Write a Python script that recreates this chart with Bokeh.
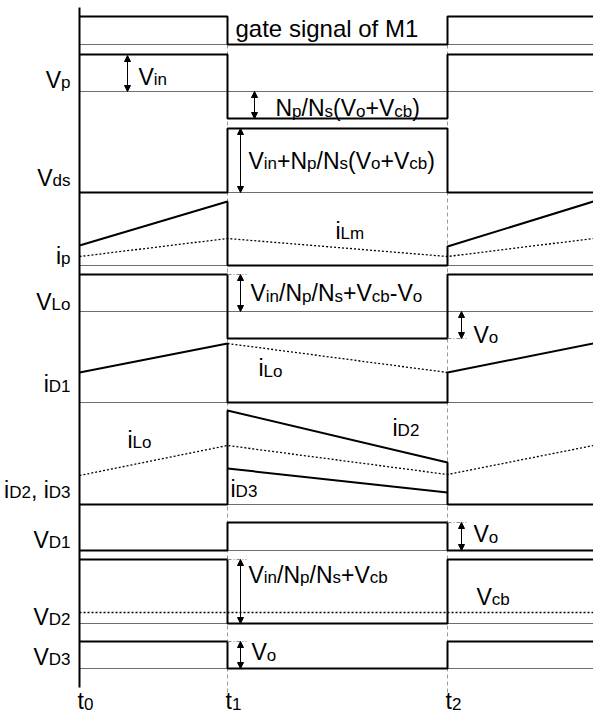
import re
from bokeh.plotting import figure
from bokeh.models import ColumnDataSource, Range1d, Arrow, NormalHead
from bokeh.core.properties import value, field
from bokeh.embed import file_html
from bokeh.resources import INLINE

# ---------------- data ----------------
# time instants (arbitrary units): t0, t1, t2, end of view
T = [0, 148, 368, 514]
T_LABELS = ["t_{0}", "t_{1}", "t_{2}"]

# square-wave levels per interval [t0-t1, t1-t2, t2-end] (height above baseline)
GATE = [28, 0, 28]
VP = [37, -27, 37]
VDS = [0, 64, 0]
VLO = [37, -27, 37]
VD1 = [0, 28, 0]
VD2 = [64, 0, 64]
VD3 = [27, 0, 27]
VCB = 11

# ramp values at the time instants T
IP = [20, 64, 19, 64]          # solid primary current (zero between t1 and t2)
ILM = [9, 27, 9, 27]           # magnetising current (dotted)
ID1 = [30, 59, 30, 59]         # iD1 (zero between t1 and t2)
ILO1 = [59, 30]                # iLo in iD1 panel, t1 -> t2 (dotted)
ID2 = [94, 42]                 # t1 -> t2
ID3 = [36, 12]                 # t1 -> t2
ILO2 = [29, 59, 30, 59]        # iLo in iD2/iD3 panel (dotted)

# ---------------- layout ----------------
BASE = dict(gate=44, vp=91, vds=192, ip=265, vlo=311, id1=402, id23=504,
            vd1=550, vd2=623, vd3=668)

LEFT_LABELS = ["V_{p}", "V_{ds}", "i_{p}", "V_{Lo}", "i_{D1}", "i_{D2}, i_{D3}",
               "V_{D1}", "V_{D2}", "V_{D3}"]
LEFT_Y = [85, 183, 261, 307, 389, 495, 545, 622, 662]

ANNOT = ["V_{in}", "N_{p}/N_{s}(V_{o}+V_{cb})", "V_{in}+N_{p}/N_{s}(V_{o}+V_{cb})",
         "i_{Lm}", "V_{in}/N_{p}/N_{s}+V_{cb}-V_{o}", "V_{o}", "i_{Lo}", "i_{Lo}",
         "i_{D2}", "i_{D3}", "V_{o}", "V_{in}/N_{p}/N_{s}+V_{cb}", "V_{cb}", "V_{o}"]
ANNOT_X = [59, 196, 169, 256, 171, 394, 179, 48, 313, 151, 394, 169, 397, 172]
ANNOT_Y = [82, 113.5, 166, 236, 298.5, 340, 373.5, 445, 433, 494, 539.5, 580, 602, 657.5]

MAIN_SIZE = 23
SUB_SIZE = 17
SUB_DROP = 3
TEXT_DY = -6
FONT = "Liberation Sans"

W = {'V': 667, 'p': 556, 'i': 222, 'n': 556, 'N': 722, 's': 500, '/': 278, '(': 333,
     ')': 333, 'o': 556, '+': 584, 'c': 500, 'b': 556, '-': 333, 'd': 556, 'L': 556,
     'm': 833, 'D': 722, '1': 556, '2': 556, '3': 556, ',': 278, ' ': 278, 't': 278,
     '0': 556}

p = figure(width=593, height=712, x_range=Range1d(-79, 514), y_range=Range1d(712, 0),
           output_backend="svg", toolbar_location=None, min_border=0)
p.xaxis.visible = False
p.yaxis.visible = False
p.grid.visible = False
p.outline_line_color = None
p.background_fill_color = "white"
p.border_fill_color = "white"

BLACK = "#000000"
GRAY = "#6e6e6e"
LW = 2

# time guide lines
for t in T[1:3]:
    p.line([t, t], [16, 697], line_color="#9a9a9a", line_width=1, line_dash="4 3")

# baselines
for b in BASE.values():
    p.line([T[0], T[3]], [b, b], line_color=GRAY, line_width=1)


def square(levels, base):
    xs = [T[0], T[1], T[1], T[2], T[2], T[3]]
    ys = [base - levels[0], base - levels[0], base - levels[1], base - levels[1],
          base - levels[2], base - levels[2]]
    p.line(xs, ys, line_color=BLACK, line_width=LW)


square(GATE, BASE["gate"])
square(VP, BASE["vp"])
square(VDS, BASE["vds"])
square(VLO, BASE["vlo"])
square(VD1, BASE["vd1"])
square(VD2, BASE["vd2"])
square(VD3, BASE["vd3"])

# Vcb dotted level
p.line([T[0], T[3]], [BASE["vd2"] - VCB] * 2, line_color=BLACK, line_width=1.3, line_dash="2 2")

# ip and iLm
b = BASE["ip"]
p.line([T[0], T[1], T[1], T[2], T[2], T[3]],
       [b - IP[0], b - IP[1], b, b, b - IP[2], b - IP[3]], line_color=BLACK, line_width=LW)
p.line(T, [b - v for v in ILM], line_color=BLACK, line_width=1.3, line_dash="2 2")

# iD1 and iLo
b = BASE["id1"]
p.line([T[0], T[1], T[1], T[2], T[2], T[3]],
       [b - ID1[0], b - ID1[1], b, b, b - ID1[2], b - ID1[3]], line_color=BLACK, line_width=LW)
p.line([T[1], T[2]], [b - v for v in ILO1], line_color=BLACK, line_width=1.3, line_dash="2 2")

# iD2, iD3, iLo
b = BASE["id23"]
p.line([T[0], T[1], T[1], T[2], T[2], T[3]],
       [b, b, b - ID2[0], b - ID2[1], b, b], line_color=BLACK, line_width=LW)
p.line([T[1], T[2]], [b - v for v in ID3], line_color=BLACK, line_width=LW)
p.line(T, [b - v for v in ILO2], line_color=BLACK, line_width=1.3, line_dash="2 2")

# left axis
p.line([T[0], T[0]], [7, 687], line_color=BLACK, line_width=2)

# short dash-dot guides at arrow ends
GUIDES = [(T[1], 274), (T[2], 338), (T[2], 522), (T[1], 559), (T[1], 641)]
for gx, gy in GUIDES:
    p.line([gx, gx + 19], [gy, gy], line_color="#8a8a8a", line_width=1, line_dash="4 2 1 2")

# double-headed arrows (x, y_top, y_bottom)
ARROWS = [(48, 55, 91), (175, 91, 118), (161, 128, 192), (161, 274, 311),
          (382, 311, 338), (382, 522, 550), (161, 559, 623), (161, 641, 668)]
for ax, y1, y2 in ARROWS:
    p.add_layout(Arrow(x_start=ax, y_start=y1, x_end=ax, y_end=y2, line_width=1,
                       start=NormalHead(size=6, fill_color=BLACK, line_color=BLACK, line_width=1),
                       end=NormalHead(size=6, fill_color=BLACK, line_color=BLACK, line_width=1)))

# ---------------- text with subscripts ----------------
def parse(s):
    out = []
    for sub, main in re.findall(r'_\{([^}]*)\}|([^_]+)', s):
        if sub:
            out.append((sub, True))
        else:
            out.append((main, False))
    return out


def width(segs):
    tot = 0.0
    for txt, is_sub in segs:
        size = SUB_SIZE if is_sub else MAIN_SIZE
        tot += sum(W.get(c, 556) for c in txt) / 1000.0 * size
    return tot


tx, ty, tt, ts = [], [], [], []


def place(s, x, y, align="left"):
    segs = parse(s)
    if align == "right":
        x = x - width(segs)
    for txt, is_sub in segs:
        size = SUB_SIZE if is_sub else MAIN_SIZE
        tx.append(x)
        ty.append(y + TEXT_DY + (SUB_DROP if is_sub else 0))
        tt.append(txt)
        ts.append(f"{size}px")
        x += sum(W.get(c, 556) for c in txt) / 1000.0 * size


for s, y in zip(LEFT_LABELS, LEFT_Y):
    place(s, -9, y, "right")
for s, x, y in zip(ANNOT, ANNOT_X, ANNOT_Y):
    place(s, x, y)
for s, t in zip(T_LABELS, T[:3]):
    place(s, t - 2, 706)

src = ColumnDataSource(dict(x=tx, y=ty, text=tt, size=ts))
p.text(x="x", y="y", text="text", source=src, text_font=value(FONT),
       text_font_size=field("size"), text_baseline="alphabetic", text_align="left",
       text_color=BLACK)

p.text(x=[156], y=[33.5 + TEXT_DY], text=["gate signal of M1"], text_font=value(FONT),
       text_font_size="24px", text_baseline="alphabetic", text_align="left", text_color=BLACK)

open("out.html", "w").write(file_html(p, INLINE))
